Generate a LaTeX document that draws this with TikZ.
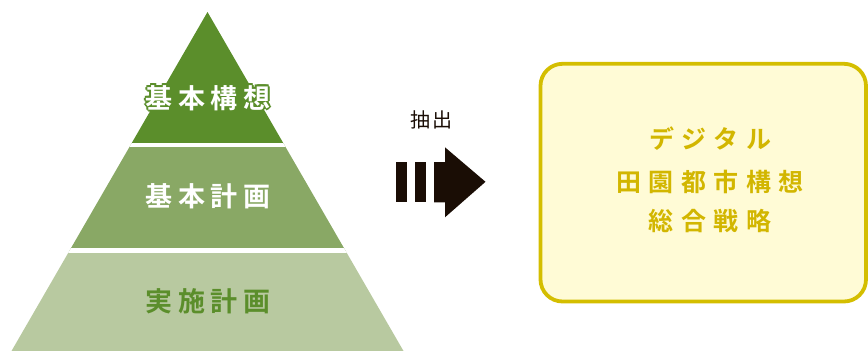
\documentclass[tikz,border=0pt]{standalone}
\usepackage{fontspec}
\usetikzlibrary{calc}
\newfontfamily\jpb{Noto Sans CJK JP Bold}[LetterSpace=20]
\newfontfamily\jpbw{Noto Sans CJK JP Bold}[LetterSpace=30]
\newfontfamily\jpn{Noto Sans CJK JP}[LetterSpace=10]
\definecolor{gDark}{HTML}{5B8E2B}
\definecolor{gMid}{HTML}{89A865}
\definecolor{gLight}{HTML}{B8C9A0}
\definecolor{arrowC}{HTML}{1A0D05}
\definecolor{boxFill}{HTML}{FFFBD6}
\definecolor{boxLine}{HTML}{D4BE00}
\definecolor{boxText}{HTML}{D2B600}
\tikzset{
  tierText/.style={font=\jpb\fontsize{27}{30}\selectfont, inner sep=0pt},
  stratText/.style={font=\jpbw\fontsize{25}{28}\selectfont, text=boxText, inner sep=0pt},
}
\begin{document}
\begin{tikzpicture}[x=1pt,y=-1pt]
\useasboundingbox (0,0) rectangle (868,351);
% pyramid
\begin{scope}
  \clip (207.5,12) -- (403.5,351) -- (11.5,351) -- cycle;
  \fill[gDark] (0,0) rectangle (420,145);
  \fill[gMid] (0,145) rectangle (420,250.5);
  \fill[gLight] (0,250.5) rectangle (420,351);
  \draw[white, line width=3.6pt] (0,145) -- (420,145);
  \draw[white, line width=4.4pt] (0,250.5) -- (420,250.5);
\end{scope}
% top text with outline
\foreach \a in {0,45,...,315}{
  \node[tierText, text=gDark] at ($(208,98)+(\a:2)$) {基本構想};
}
\node[tierText, text=white] (t1) at (208,98) {基本構想};
\node[tierText, text=white] (t2) at (208,196) {基本計画};
\node[tierText, text=gDark] (t3) at (208,301.5) {実施計画};
% label
\node[font=\jpn\fontsize{20}{22}\selectfont, text=arrowC, inner sep=0pt] (lbl) at (431,120) {抽出};
% arrow
\fill[arrowC] (396,162) rectangle (406.5,202.3);
\fill[arrowC] (415,162) rectangle (425.5,202.3);
\fill[arrowC] (434,162) -- (445,162) -- (445,147.3) -- (485.5,181.8) -- (445,217.3) -- (445,202.3) -- (434,202.3) -- cycle;
% box
\draw[boxLine, fill=boxFill, line width=3.8pt, rounded corners=22pt] (540.5,63.8) rectangle (866,301.5);
\node[stratText] (s1) at (710,139) {デジタル};
\node[stratText] (s2) at (710,181.5) {田園都市構想};
\node[stratText] (s3) at (710,220.5) {総合戦略};
\end{tikzpicture}
\end{document}
